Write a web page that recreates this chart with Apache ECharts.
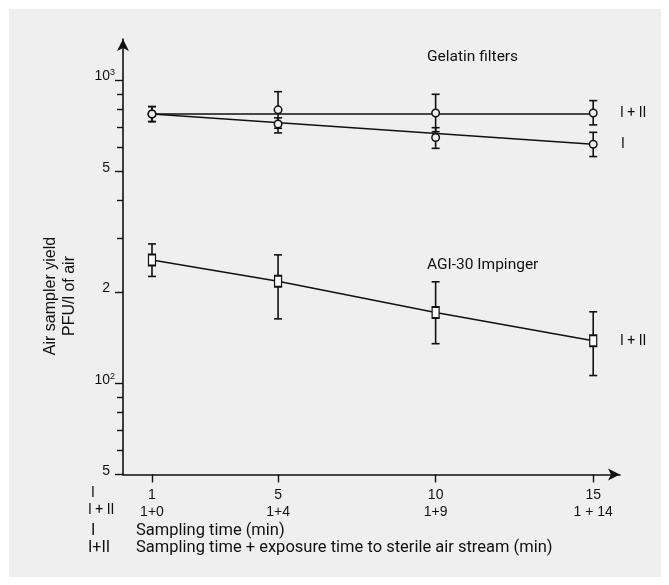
<!doctype html>
<html>
<head>
<meta charset="utf-8"/>
<title>Air sampler yield</title>
<script src="https://cdn.jsdelivr.net/npm/echarts@6/dist/echarts.min.js"></script>
<style>
body { margin: 0; background: #fff; }
#main { width: 669px; height: 585px; }
</style>
</head>
<body>
<div id="main"></div>
<script>
// x axis: sampling time (row I) and sampling + exposure time (row I+II)
const sampleTimes = [1, 5, 10, 15];
const labelsI = ['1', '5', '10', '15'];
const labelsI_II = ['1+0', '1+4', '1+9', '1 + 14'];

// PFU/l of air, with error bar ends
const gelatinI_II = [772, 797, 778, 778];
const gelatinI_II_lo = [729, 693, 675, 711];
const gelatinI_II_hi = [817, 915, 897, 855];

const gelatinI = [772, 716, 646, 614];
const gelatinI_lo = [729, 669, 595, 559];
const gelatinI_hi = [817, 750, 696, 672];

const agi = [255, 217, 171, 138];
const agi_lo = [225, 163, 135, 106];
const agi_hi = [288, 265, 216, 172];

// fitted lines for the gelatin filters, value at t=1 and t=15
const fitI_II = [772, 772];
const fitI = [772, 614];

// y axis ticks
const yMajor = [50, 100, 200, 500, 1000];
const yMajorText = ['5', '10', '2', '5', '10'];
const yMajorSup = ['', '2', '', '', '3'];
const yMinor = [60, 70, 80, 90, 300, 400, 600, 700, 800, 900];

const ink = '#111';
const bg = '#efefef';
const sans = "'Liberation Sans', Arial, sans-serif";
const cond = "Roboto, 'Liberation Sans', sans-serif";

function pts(ys) { return sampleTimes.map((x, i) => [x, ys[i]]); }
function bars(lo, hi) { return sampleTimes.map((x, i) => [x, lo[i], hi[i]]); }
function ends(ys) { return [[sampleTimes[0], ys[0]], [sampleTimes[sampleTimes.length - 1], ys[1]]]; }

function renderErr(params, api) {
    const x = api.value(0);
    const lo = api.coord([x, api.value(1)]);
    const hi = api.coord([x, api.value(2)]);
    const w = 4;
    const style = { stroke: ink, lineWidth: 1.6 };
    return {
        type: 'group',
        children: [
            { type: 'line', shape: { x1: lo[0], y1: lo[1], x2: hi[0], y2: hi[1] }, style: style },
            { type: 'line', shape: { x1: lo[0] - w, y1: lo[1], x2: lo[0] + w, y2: lo[1] }, style: style },
            { type: 'line', shape: { x1: hi[0] - w, y1: hi[1], x2: hi[0] + w, y2: hi[1] }, style: style }
        ]
    };
}

function errSeries(lo, hi) {
    return {
        type: 'custom', renderItem: renderErr, data: bars(lo, hi),
        encode: { x: 0, y: [1, 2] }, z: 3, silent: true
    };
}

function label(text, x, y, size, font, align) {
    return {
        type: 'text', x: x, y: y, silent: true,
        style: {
            text: text, fill: ink, font: size + 'px ' + font,
            textAlign: align || 'left', align: align || 'left',
            textVerticalAlign: 'middle', verticalAlign: 'middle'
        }
    };
}

const axisLineStyle = { color: ink, width: 1.6 };

const chart = echarts.init(document.getElementById('main'), null, { renderer: 'canvas' });
chart.setOption({
    backgroundColor: '#fff',
    animation: false,
    grid: { left: 123, right: 49, top: 39, bottom: 110.5, outerBoundsMode: 'none' },
    xAxis: {
        type: 'value', min: 0.08, max: 15.85,
        axisLine: { show: true, lineStyle: axisLineStyle, symbol: ['none', 'arrow'], symbolSize: [9, 12] },
        axisTick: { show: true, customValues: sampleTimes, length: 8, lineStyle: { color: ink, width: 1.4 } },
        axisLabel: {
            customValues: sampleTimes, margin: 12,
            formatter: function (v) {
                const i = sampleTimes.indexOf(v);
                return '{a|' + labelsI[i] + '}\n{b|' + labelsI_II[i] + '}';
            },
            rich: {
                a: { fontFamily: sans, fontSize: 14, color: ink, lineHeight: 17 },
                b: { fontFamily: sans, fontSize: 14, color: ink, lineHeight: 17 }
            }
        },
        splitLine: { show: false }
    },
    yAxis: [{
        type: 'log', logBase: 10, min: 50, max: 1365,
        axisLine: { show: true, lineStyle: axisLineStyle, symbol: ['none', 'arrow'], symbolSize: [9, 12] },
        axisTick: { show: true, customValues: yMajor, length: 8, lineStyle: { color: ink, width: 1.4 } },
        axisLabel: {
            customValues: yMajor, margin: 8, padding: [0, 0, 7, 0],
            formatter: function (v) {
                const i = yMajor.indexOf(Math.round(v));
                return '{n|' + yMajorText[i] + '}{sup|' + (yMajorSup[i] || ' ') + '}';
            },
            rich: {
                n: { fontFamily: sans, fontSize: 14, color: ink, lineHeight: 16 },
                sup: { fontFamily: sans, fontSize: 9, color: ink, width: 5, lineHeight: 9, verticalAlign: 'top' }
            }
        },
        splitLine: { show: false }
    }, {
        type: 'log', logBase: 10, min: 50, max: 1365, position: 'left',
        axisLine: { show: false },
        axisTick: { show: true, customValues: yMinor, length: 6, lineStyle: { color: ink, width: 1.4 } },
        axisLabel: { show: false },
        splitLine: { show: false }
    }],
    series: [
        { type: 'line', data: ends(fitI_II), symbol: 'none', lineStyle: { color: ink, width: 1.6 }, z: 2, silent: true },
        { type: 'line', data: ends(fitI), symbol: 'none', lineStyle: { color: ink, width: 1.6 }, z: 2, silent: true },
        { type: 'line', data: pts(agi), symbol: 'none', lineStyle: { color: ink, width: 1.6 }, z: 2, silent: true },
        errSeries(gelatinI_II_lo, gelatinI_II_hi),
        errSeries(gelatinI_lo, gelatinI_hi),
        errSeries(agi_lo, agi_hi),
        { type: 'scatter', data: pts(gelatinI_II), symbol: 'circle', symbolSize: 7.5,
          itemStyle: { color: bg, borderColor: ink, borderWidth: 1.5, opacity: 1 }, z: 5, silent: true },
        { type: 'scatter', data: pts(gelatinI), symbol: 'circle', symbolSize: 7.5,
          itemStyle: { color: bg, borderColor: ink, borderWidth: 1.5, opacity: 1 }, z: 5, silent: true },
        { type: 'scatter', data: pts(agi), symbol: 'rect', symbolSize: [7, 11],
          itemStyle: { color: '#fafafa', borderColor: ink, borderWidth: 1.5, opacity: 1 }, z: 5, silent: true }
    ],
    graphic: [
        { type: 'rect', shape: { x: 9, y: 9, width: 652, height: 568 }, style: { fill: bg }, z: -10, silent: true },
        label('Gelatin filters', 427, 57, 15.5, cond),
        label('AGI-30 Impinger', 427, 265, 15.5, cond),
        label('I + II', 620, 113, 14, cond),
        label('I', 621, 144, 14, cond),
        label('I + II', 620, 341, 14, cond),
        label('I', 91, 493, 14, cond),
        label('I + II', 88, 510, 14, cond),
        label('I', 91, 531, 16, cond),
        label('Sampling time (min)', 136, 531, 16.5, cond),
        label('I+II', 88, 548, 16, cond),
        label('Sampling time + exposure time to sterile air stream (min)', 136, 548, 16.5, cond),
        {
            type: 'text', x: 60, y: 296, rotation: Math.PI / 2, silent: true,
            style: {
                text: 'Air sampler yield\nPFU/l of air', fill: ink, font: '16px ' + sans,
                lineHeight: 19, textAlign: 'center', align: 'center',
                textVerticalAlign: 'middle', verticalAlign: 'middle'
            }
        }
    ]
});
</script>
</body>
</html>
